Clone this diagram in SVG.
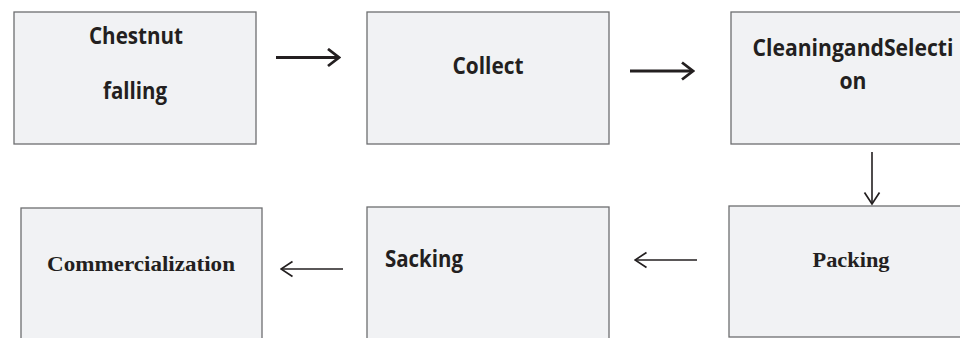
<svg xmlns="http://www.w3.org/2000/svg" width="960" height="338" viewBox="0 0 960 338">
  <style>
    .box { fill: #f1f2f4; stroke: #6d6e70; stroke-width: 1.3; }
    .lbl { font-family: "Open Sans", Lato, "Liberation Sans", sans-serif; font-weight: bold; font-size: 23px; fill: #231f20; }
    .lbl-serif { font-family: "Liberation Serif", "Times New Roman", serif; font-weight: bold; font-size: 22px; fill: #231f20; }
    .link { fill: none; stroke: #231f20; }
    .thick { stroke-width: 2.8; }
    .thin { stroke-width: 1.6; }
  </style>
  <defs>
    <!-- open chevron heads, sized in user units so every connector gets the same head -->
    <marker id="headThick" markerUnits="userSpaceOnUse" viewBox="0 0 14 20" refX="12.5" refY="10" markerWidth="14" markerHeight="20" orient="auto">
      <path d="M1.5,1.5 L12.5,10 L1.5,18.5" fill="none" stroke="#231f20" stroke-width="2.8"/>
    </marker>
    <marker id="headThin" markerUnits="userSpaceOnUse" viewBox="0 0 14 18" refX="12.5" refY="9" markerWidth="14" markerHeight="18" orient="auto">
      <path d="M1,1.5 L12.5,9 L1,16.5" fill="none" stroke="#231f20" stroke-width="1.7"/>
    </marker>
  </defs>

  <g id="node-chestnut-falling">
    <rect class="box" x="14" y="12" width="242" height="132"/>
    <text class="lbl" x="136" y="44" text-anchor="middle" textLength="94" lengthAdjust="spacingAndGlyphs">Chestnut</text>
    <text class="lbl" x="135" y="99" text-anchor="middle" textLength="64" lengthAdjust="spacingAndGlyphs">falling</text>
  </g>

  <g id="node-collect">
    <rect class="box" x="367" y="12" width="242" height="132"/>
    <text class="lbl" x="488" y="74" text-anchor="middle" textLength="71" lengthAdjust="spacingAndGlyphs">Collect</text>
  </g>

  <g id="node-cleaning-selection">
    <rect class="box" x="731" y="12" width="244" height="132"/>
    <text class="lbl" x="853" y="56" text-anchor="middle" textLength="201" lengthAdjust="spacingAndGlyphs">CleaningandSelecti</text>
    <text class="lbl" x="853" y="89" text-anchor="middle" textLength="27" lengthAdjust="spacingAndGlyphs">on</text>
  </g>

  <g id="node-packing">
    <rect class="box" x="729" y="206" width="244" height="131"/>
    <text class="lbl-serif" x="851" y="267" text-anchor="middle" textLength="77" lengthAdjust="spacingAndGlyphs">Packing</text>
  </g>

  <g id="node-sacking">
    <rect class="box" x="367" y="207" width="242" height="140"/>
    <text class="lbl" x="385" y="267" textLength="78" lengthAdjust="spacingAndGlyphs">Sacking</text>
  </g>

  <g id="node-commercialization">
    <rect class="box" x="21" y="208" width="241" height="140"/>
    <text class="lbl-serif" x="141" y="271" text-anchor="middle" font-size="24" textLength="188" lengthAdjust="spacingAndGlyphs">Commercialization</text>
  </g>

  <g id="connectors">
    <line class="link thick" x1="276" y1="57.5" x2="339" y2="57.5" marker-end="url(#headThick)"/>
    <line class="link thick" x1="630" y1="71" x2="693" y2="71" marker-end="url(#headThick)"/>
    <line class="link thin" x1="872" y1="152" x2="872" y2="204" marker-end="url(#headThin)"/>
    <line class="link thin" x1="697" y1="260" x2="635" y2="260" marker-end="url(#headThin)"/>
    <line class="link thin" x1="343" y1="269" x2="281" y2="269" marker-end="url(#headThin)"/>
  </g>
</svg>
